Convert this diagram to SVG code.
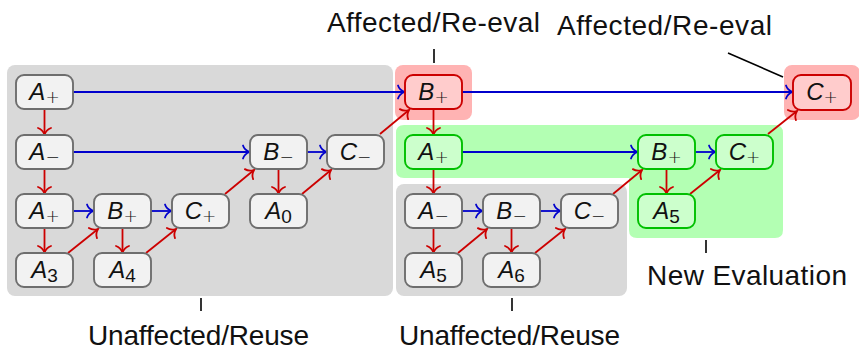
<svg xmlns="http://www.w3.org/2000/svg" width="859" height="352" viewBox="0 0 859 352">
<style>
.bg-gray{fill:#d9d9d9}
.bg-red{fill:#ffb3b3}
.bg-green{fill:#b3ffb3}
.n rect{stroke-width:1.9}
.gray rect{fill:#f2f2f2;stroke:#6e6e6e}
.red rect{fill:#ffcccc;stroke:#cc0000}
.green rect{fill:#ccffcc;stroke:#00c000}
.n text{font-family:"Liberation Sans",Arial,sans-serif;font-size:24px;text-anchor:middle;fill:#111}
.n text .v{font-style:italic}
.n text .s{font-size:19px}
.n text .o{font-family:"DejaVu Sans",sans-serif;font-size:17px;font-weight:300}
.lbl{font-family:"Liberation Sans",Arial,sans-serif;font-size:28px;fill:#111;text-anchor:middle}
.r{stroke:#cc0000;stroke-width:1.8;fill:none;marker-end:url(#ar)}
.b{stroke:#0000cc;stroke-width:1.8;fill:none;marker-end:url(#ab)}
.tick{stroke:#000;stroke-width:1.6}
</style>
<defs>
<marker id="ar" markerUnits="userSpaceOnUse" viewBox="-9 -8 11 16" markerWidth="11" markerHeight="16" refX="0" refY="0" orient="auto">
<path d="M-6.5,-6.5 C-5.5,-3.5 -2.2,-0.9 0,0 C-2.2,0.9 -5.5,3.5 -6.5,6.5" fill="none" stroke="#cc0000" stroke-width="1.8" stroke-linecap="round"/>
</marker>
<marker id="ab" markerUnits="userSpaceOnUse" viewBox="-9 -8 11 16" markerWidth="11" markerHeight="16" refX="0" refY="0" orient="auto">
<path d="M-6.5,-6.5 C-5.5,-3.5 -2.2,-0.9 0,0 C-2.2,0.9 -5.5,3.5 -6.5,6.5" fill="none" stroke="#0000cc" stroke-width="1.8" stroke-linecap="round"/>
</marker>
</defs>

<g id="backgrounds">
<rect class="bg-gray" x="7" y="65" width="386" height="231" rx="8"/>
<rect class="bg-gray" x="396" y="184" width="231" height="112" rx="8"/>
<rect class="bg-red" x="395" y="65" width="77" height="55" rx="8"/>
<rect class="bg-red" x="784" y="65" width="76" height="55" rx="8"/>
<path class="bg-green" d="M404,125 H775 Q783,125 783,133 V230 Q783,238 775,238 H637 Q629,238 629,230 V178 H404 Q396,178 396,170 V133 Q396,125 404,125 Z"/>
</g>

<g id="connectors">
<line class="r" x1="44.5" y1="109" x2="44.5" y2="134.5"/>
<line class="r" x1="44.5" y1="169" x2="44.5" y2="193.5"/>
<line class="r" x1="44.5" y1="228" x2="44.5" y2="252.5"/>
<line class="r" x1="122.5" y1="228" x2="122.5" y2="252.5"/>
<line class="r" x1="278.5" y1="169" x2="278.5" y2="193.5"/>
<line class="r" x1="433.5" y1="109" x2="433.5" y2="134.5"/>
<line class="r" x1="433.5" y1="169" x2="433.5" y2="193.5"/>
<line class="r" x1="433.5" y1="228" x2="433.5" y2="252.5"/>
<line class="r" x1="511.5" y1="228" x2="511.5" y2="252.5"/>
<line class="r" x1="666.5" y1="169" x2="666.5" y2="193.5"/>
<line class="b" x1="73" y1="92" x2="404.5" y2="92"/>
<line class="b" x1="462" y1="92" x2="792.5" y2="92"/>
<line class="b" x1="73" y1="152" x2="249.5" y2="152"/>
<line class="b" x1="307" y1="152" x2="326.5" y2="152"/>
<line class="b" x1="462" y1="152" x2="637.5" y2="152"/>
<line class="b" x1="695" y1="152" x2="715.5" y2="152"/>
<line class="b" x1="73" y1="211" x2="93.5" y2="211"/>
<line class="b" x1="151" y1="211" x2="171.5" y2="211"/>
<line class="b" x1="462" y1="211" x2="482.5" y2="211"/>
<line class="b" x1="540" y1="211" x2="560.5" y2="211"/>
<line class="r" x1="68" y1="253" x2="98" y2="229"/>
<line class="r" x1="146" y1="253" x2="176" y2="229"/>
<line class="r" x1="225" y1="194" x2="254" y2="170"/>
<line class="r" x1="302" y1="194" x2="331" y2="170"/>
<line class="r" x1="380" y1="134" x2="409" y2="110"/>
<line class="r" x1="458" y1="253" x2="487" y2="229"/>
<line class="r" x1="535" y1="253" x2="565" y2="229"/>
<line class="r" x1="613" y1="194" x2="642" y2="170"/>
<line class="r" x1="690" y1="194" x2="720" y2="170"/>
<line class="r" x1="768" y1="134" x2="797" y2="111"/>
</g>

<g id="n1" class="n gray"><rect x="16" y="75" width="57" height="34" rx="8"/><text x="44.5" y="100"><tspan class="v">A</tspan><tspan class="o" dy="3">+</tspan></text></g>
<g id="n2" class="n gray"><rect x="16" y="135" width="57" height="34" rx="8"/><text x="44.5" y="160"><tspan class="v">A</tspan><tspan class="o" dy="3">−</tspan></text></g>
<g id="n3" class="n gray"><rect x="16" y="194" width="57" height="34" rx="8"/><text x="44.5" y="219"><tspan class="v">A</tspan><tspan class="o" dy="3">+</tspan></text></g>
<g id="n4" class="n gray"><rect x="16" y="253" width="57" height="34" rx="8"/><text x="44.5" y="278"><tspan class="v">A</tspan><tspan class="s" dy="4">3</tspan></text></g>
<g id="n5" class="n gray"><rect x="94" y="194" width="57" height="34" rx="8"/><text x="122.5" y="219"><tspan class="v">B</tspan><tspan class="o" dy="3">+</tspan></text></g>
<g id="n6" class="n gray"><rect x="94" y="253" width="57" height="34" rx="8"/><text x="122.5" y="278"><tspan class="v">A</tspan><tspan class="s" dy="4">4</tspan></text></g>
<g id="n7" class="n gray"><rect x="172" y="194" width="57" height="34" rx="8"/><text x="200.5" y="219"><tspan class="v">C</tspan><tspan class="o" dy="3">+</tspan></text></g>
<g id="n8" class="n gray"><rect x="250" y="135" width="57" height="34" rx="8"/><text x="278.5" y="160"><tspan class="v">B</tspan><tspan class="o" dy="3">−</tspan></text></g>
<g id="n9" class="n gray"><rect x="250" y="194" width="57" height="34" rx="8"/><text x="278.5" y="219"><tspan class="v">A</tspan><tspan class="s" dy="4">0</tspan></text></g>
<g id="n10" class="n gray"><rect x="327" y="135" width="57" height="34" rx="8"/><text x="355.5" y="160"><tspan class="v">C</tspan><tspan class="o" dy="3">−</tspan></text></g>
<g id="n11" class="n red"><rect x="405" y="75" width="57" height="34" rx="8"/><text x="433.5" y="100"><tspan class="v">B</tspan><tspan class="o" dy="3">+</tspan></text></g>
<g id="n12" class="n green"><rect x="405" y="135" width="57" height="34" rx="8"/><text x="433.5" y="160"><tspan class="v">A</tspan><tspan class="o" dy="3">+</tspan></text></g>
<g id="n13" class="n gray"><rect x="405" y="194" width="57" height="34" rx="8"/><text x="433.5" y="219"><tspan class="v">A</tspan><tspan class="o" dy="3">−</tspan></text></g>
<g id="n14" class="n gray"><rect x="405" y="253" width="57" height="34" rx="8"/><text x="433.5" y="278"><tspan class="v">A</tspan><tspan class="s" dy="4">5</tspan></text></g>
<g id="n15" class="n gray"><rect x="483" y="194" width="57" height="34" rx="8"/><text x="511.5" y="219"><tspan class="v">B</tspan><tspan class="o" dy="3">−</tspan></text></g>
<g id="n16" class="n gray"><rect x="483" y="253" width="57" height="34" rx="8"/><text x="511.5" y="278"><tspan class="v">A</tspan><tspan class="s" dy="4">6</tspan></text></g>
<g id="n17" class="n gray"><rect x="561" y="194" width="57" height="34" rx="8"/><text x="589.5" y="219"><tspan class="v">C</tspan><tspan class="o" dy="3">−</tspan></text></g>
<g id="n18" class="n green"><rect x="638" y="135" width="57" height="34" rx="8"/><text x="666.5" y="160"><tspan class="v">B</tspan><tspan class="o" dy="3">+</tspan></text></g>
<g id="n19" class="n green"><rect x="638" y="194" width="57" height="34" rx="8"/><text x="666.5" y="219"><tspan class="v">A</tspan><tspan class="s" dy="4">5</tspan></text></g>
<g id="n20" class="n green"><rect x="716" y="135" width="57" height="34" rx="8"/><text x="744.5" y="160"><tspan class="v">C</tspan><tspan class="o" dy="3">+</tspan></text></g>
<g id="n21" class="n red"><rect x="793" y="75" width="58" height="35" rx="8"/><text x="822" y="100"><tspan class="v">C</tspan><tspan class="o" dy="3">+</tspan></text></g>

<g id="labels">
<line class="tick" x1="434" y1="49" x2="434" y2="63"/>
<text class="lbl" x="433.5" y="32" textLength="213">Affected/Re-eval</text>
<line class="tick" x1="728" y1="53" x2="783" y2="77"/>
<text class="lbl" x="664.5" y="35" textLength="215">Affected/Re-eval</text>
<line class="tick" x1="706" y1="240" x2="706" y2="253"/>
<text class="lbl" x="747" y="285" textLength="200">New Evaluation</text>
<line class="tick" x1="201" y1="298" x2="201" y2="311"/>
<text class="lbl" x="198.5" y="345" textLength="221">Unaffected/Reuse</text>
<line class="tick" x1="512" y1="298" x2="512" y2="311"/>
<text class="lbl" x="509.5" y="345" textLength="221">Unaffected/Reuse</text>
</g>
</svg>
